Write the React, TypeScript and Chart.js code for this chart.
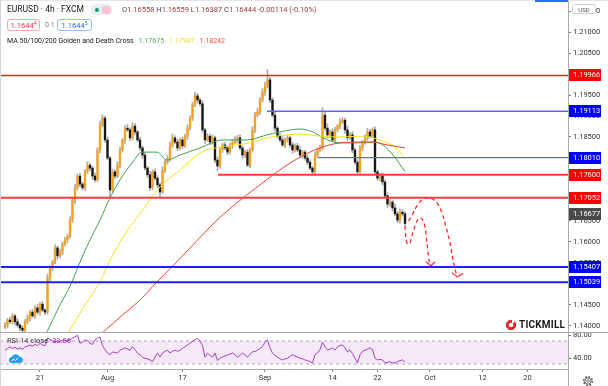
import React, { useEffect, useRef } from "react";
import { Chart, registerables } from "chart.js";

Chart.register(...registerables);

const FONT = "Roboto, 'Noto Sans', 'DejaVu Sans', sans-serif";

// x axis measured in trading days, 0 = 21 Jul
const X_MIN = -5.333;
const X_MAX = 70.4;
const xTickDays = [0, 9, 19, 30, 39, 45, 52, 59, 65];
const xTickLabels = ["21", "Aug", "17", "Sep", "14", "22", "Oct", "12", "20"];

const Y_MIN = 1.13857;
const Y_MAX = 1.21762;
const yTickValues = [1.14, 1.145, 1.15, 1.155, 1.16, 1.165, 1.17, 1.175, 1.18, 1.185, 1.19, 1.195, 1.2, 1.205, 1.21, 1.215];

const RSI_MIN = 21.3;
const RSI_MAX = 85.65;
const rsiTickValues = [40, 80];
const rsiBandTop = 70;
const rsiBandBottom = 30;

// candles (8h buckets): price = 1.1 + pips / 10000
const FIRST_BAR_DAY = -4.667;
const BARS_PER_DAY = 3;
const firstOpenPips = 398;
const closePips = [
  402, 414, 410, 424, 410, 402, 395, 390, 410, 419,
  433, 424, 443, 433, 452, 438, 433, 514, 538, 552,
  586, 567, 576, 595, 605, 614, 652, 700, 729, 757,
  738, 729, 767, 783, 776, 757, 748, 819, 879, 895,
  843, 800, 724, 767, 757, 783, 819, 843, 871, 867,
  848, 876, 862, 843, 824, 807, 776, 760, 729, 767,
  752, 736, 719, 771, 790, 800, 831, 848, 838, 824,
  843, 829, 852, 871, 895, 926, 948, 938, 929, 867,
  843, 852, 838, 848, 795, 781, 819, 831, 824, 814,
  829, 838, 843, 848, 824, 807, 814, 783, 819, 867,
  902, 910, 938, 957, 971, 986, 938, 902, 871, 852,
  843, 831, 843, 848, 831, 819, 829, 819, 807, 814,
  800, 790, 776, 767, 807, 819, 824, 902, 871, 855,
  862, 843, 867, 876, 886, 890, 867, 848, 855, 819,
  790, 767, 824, 838, 848, 862, 852, 867, 767, 752,
  757, 743, 710, 690, 695, 681, 667, 652, 671, 667,
  644,
];
const wickUpPips = [
  6, 4, 8, 5, 3, 7, 4, 6, 5, 8,
  4, 6, 5, 9, 4, 7, 3, 10, 6, 5,
  8, 4, 7, 5, 6, 4, 8, 6, 9, 5,
  7, 4, 6, 8, 5, 4, 7, 6, 9, 8,
  5, 7, 4, 6, 5, 8, 7, 4, 6, 9,
  5, 8, 6, 4, 7, 5, 6, 4, 8, 5,
  7, 6, 4, 8, 5, 6, 7, 9, 5, 6,
  4, 7, 5, 8, 6, 7, 9, 6, 5, 8,
  4, 6, 5, 7, 4, 8, 6, 5, 7, 4,
  6, 5, 8, 6, 7, 5, 4, 6, 5, 8,
  7, 9, 6, 8, 10, 25, 6, 5, 7, 4,
  6, 8, 5, 6, 4, 7, 5, 6, 8, 4,
  5, 7, 6, 4, 8, 5, 6, 18, 7, 10,
  5, 8, 6, 4, 7, 6, 5, 9, 6, 8,
  5, 6, 7, 4, 8, 9, 6, 5, 7, 4,
  6, 8, 5, 7, 6, 4, 9, 5, 8, 6,
  5,
];
const wickDownPips = [
  5, 7, 4, 6, 8, 5, 7, 4, 6, 5,
  7, 4, 6, 5, 8, 4, 6, 5, 7, 6,
  4, 8, 5, 6, 4, 7, 5, 6, 8, 5,
  6, 5, 7, 4, 6, 8, 5, 4, 7, 5,
  6, 4, 18, 5, 7, 4, 6, 5, 8, 4,
  6, 5, 7, 4, 6, 8, 5, 6, 7, 4,
  5, 7, 14, 4, 6, 5, 8, 6, 4, 7,
  5, 6, 4, 8, 5, 6, 4, 7, 5, 6,
  8, 4, 6, 5, 7, 12, 5, 6, 4, 7,
  5, 6, 4, 7, 5, 8, 6, 4, 6, 5,
  7, 4, 6, 5, 8, 4, 6, 5, 7, 5,
  6, 4, 7, 5, 6, 8, 5, 4, 6, 7,
  5, 6, 4, 8, 5, 6, 4, 6, 5, 7,
  6, 4, 7, 5, 6, 4, 8, 6, 4, 7,
  5, 6, 4, 7, 5, 6, 5, 4, 6, 5,
  6, 7, 5, 8, 6, 7, 5, 6, 7, 5,
  6,
];
const rsiValues = [
  54, 57, 60, 57, 59, 56, 58, 55, 60, 61,
  63, 61, 64, 62, 66, 63, 62, 75, 73, 70,
  68, 70, 69, 72, 71, 70, 72, 75, 77, 80,
  66, 68, 72, 70, 66, 64, 72, 75, 77, 62,
  55, 49, 46, 51, 50, 49, 54, 56, 58, 56,
  54, 60, 55, 49, 46, 42, 40, 39, 37, 34,
  42, 49, 42, 49, 52, 54, 49, 52, 54, 52,
  54, 57, 60, 63, 66, 69, 72, 75, 70, 62,
  42, 49, 45, 42, 49, 36, 40, 42, 44, 46,
  47, 49, 46, 42, 45, 49, 46, 42, 47, 51,
  52, 54, 57, 60, 68, 72, 58, 49, 45, 42,
  39, 37, 39, 40, 43, 46, 44, 42, 40, 39,
  37, 36, 34, 32, 46, 49, 55, 68, 60, 54,
  56, 58, 54, 60, 62, 63, 58, 51, 54, 48,
  40, 32, 46, 52, 54, 56, 58, 55, 40, 37,
  38, 37, 32, 33, 34, 32, 32, 34, 36, 37,
  33.86,
];

// moving averages: [day, price]
const ma50Points = [
  [0.933, 1.1386], [2.667, 1.145], [4.267, 1.1505], [5.067, 1.1541], [6.667, 1.1605],
  [8, 1.1652], [9.333, 1.1705], [10.667, 1.1748], [12.267, 1.1788], [13.6, 1.1814],
  [15.6, 1.1814], [16.933, 1.1795], [18.667, 1.1807], [21.333, 1.1824], [24.4, 1.1843],
  [27.6, 1.1843], [30.267, 1.1855], [32, 1.1862], [34.667, 1.1869], [36.4, 1.1862],
  [37.733, 1.1848], [40, 1.1836], [42.267, 1.1836], [44.267, 1.1838], [45.733, 1.1831],
  [47.067, 1.1807], [48.667, 1.17675],
];
const ma100Points = [
  [3.733, 1.1383], [6, 1.145], [8, 1.1505], [8.933, 1.1541], [10.667, 1.16],
  [12.267, 1.1643], [13.733, 1.1676], [14.8, 1.1705], [16.667, 1.1743], [18.667, 1.1771],
  [21.333, 1.1812], [24, 1.1826], [28, 1.1836], [30.267, 1.1848], [32.933, 1.1855],
  [34.667, 1.1857], [37.333, 1.1852], [40, 1.185], [42.667, 1.1852], [44.4, 1.1848],
  [46.267, 1.1836], [47.333, 1.1826], [48.667, 1.17987],
];
const ma200Points = [
  [8.267, 1.1383], [10.667, 1.1421], [13.333, 1.1462], [15.6, 1.1505], [17.6, 1.1541],
  [20.4, 1.1593], [23.6, 1.1652], [27.067, 1.1705], [29.333, 1.1736], [31.067, 1.176],
  [34.267, 1.1798], [37.333, 1.1824], [40, 1.1836], [42.667, 1.1838], [44.4, 1.1838],
  [46.267, 1.1831], [48, 1.1826], [48.667, 1.18242],
];

// horizontal levels
const levelValues = [1.19966, 1.19113, 1.1801, 1.176, 1.17052, 1.15407, 1.15039];
const levelStartDays = [X_MIN, 30.27, 37.07, 23.73, X_MIN, X_MIN, X_MIN];
const levelLineColors = ["#ff1414", "#6262ff", "#6262ff", "#ff3a3a", "#ff3a3a", "#2020ff", "#2020ff"];
const levelLineWidths = [1.4, 1.3, 1.3, 2, 2, 2, 2];
const levelTagColors = ["#ff0000", "#0000ff", "#0000ff", "#ff0000", "#ff0000", "#0000ff", "#0000ff"];
const currentPrice = 1.16677;

// projected path drawings: [day, price]
const projectionShort = [
  [48.667, 1.1638], [48.8, 1.1605], [49.2, 1.1595], [49.733, 1.1624], [50.267, 1.165],
  [50.667, 1.1657], [51.333, 1.1636], [51.6, 1.1598], [51.867, 1.1557], [52.133, 1.1543],
];
const arrowShort = [[51.467, 1.1553], [52.133, 1.1543], [52.667, 1.1553]];
const projectionLong = [
  [49.133, 1.165], [49.6, 1.1664], [50.267, 1.1686], [51.067, 1.1702], [52, 1.1705],
  [52.933, 1.1693], [53.6, 1.1669], [54.133, 1.1636], [54.667, 1.1598], [55.067, 1.1557],
  [55.6, 1.1517],
];
const arrowLong = [[54.933, 1.1527], [55.6, 1.1517], [56.4, 1.1525]];

const pip = (p: number) => 1.1 + p / 10000;
const toXY = (pts: number[][]) => pts.map(([x, y]) => ({ x, y }));

const UP_COLOR = "#f6a21e";
const DOWN_COLOR = "#161616";
const WICK_COLOR = "#ababab";

const priceTagPlugin = {
  id: "priceTags",
  afterDraw(chart: any) {
    const { ctx, chartArea } = chart;
    const ys = chart.scales.y;
    const tags = levelValues.map((v, i) => ({ v, bg: levelTagColors[i] }));
    tags.push({ v: currentPrice, bg: "#4a4a4a" });
    ctx.save();
    ctx.font = `7.5px ${FONT}`;
    ctx.textBaseline = "middle";
    ctx.textAlign = "left";
    tags.forEach((t) => {
      const y = Math.round(ys.getPixelForValue(t.v));
      ctx.fillStyle = t.bg;
      ctx.fillRect(chartArea.right + 1, y - 6, 32, 12);
      ctx.fillStyle = "#ffffff";
      ctx.fillText(t.v.toFixed(5), chartArea.right + 5, y + 0.5);
    });
    ctx.restore();
  },
};

export default function App() {
  const mainRef = useRef<HTMLCanvasElement>(null);
  const rsiRef = useRef<HTMLCanvasElement>(null);

  useEffect(() => {
    const candles = closePips.map((c, i) => {
      const o = i === 0 ? firstOpenPips : closePips[i - 1];
      return {
        x: FIRST_BAR_DAY + i / BARS_PER_DAY,
        o: pip(o),
        c: pip(c),
        h: pip(Math.max(o, c) + wickUpPips[i]),
        l: pip(Math.min(o, c) - wickDownPips[i]),
      };
    });

    const lineBase = { type: "line", pointRadius: 0, fill: false, tension: 0 };

    const levelDatasets = levelValues.map((v, i) => ({
      ...lineBase,
      data: [{ x: levelStartDays[i], y: v }, { x: X_MAX, y: v }],
      borderColor: levelLineColors[i],
      borderWidth: levelLineWidths[i],
      order: 2,
    }));

    const maDataset = (pts: number[][], color: string) => ({
      ...lineBase,
      data: toXY(pts),
      borderColor: color,
      borderWidth: 1,
      cubicInterpolationMode: "monotone",
      order: 3,
    });

    const main = new Chart(mainRef.current as HTMLCanvasElement, {
      type: "bar",
      data: {
        datasets: [
          {
            type: "bar",
            data: candles.map((k) => ({ x: k.x, y: [k.l, k.h] })),
            backgroundColor: WICK_COLOR,
            barThickness: 1,
            grouped: false,
            order: 6,
          },
          {
            type: "bar",
            data: candles.map((k) => ({ x: k.x, y: [k.o, k.c] })),
            backgroundColor: candles.map((k) => (k.c >= k.o ? UP_COLOR : DOWN_COLOR)),
            barThickness: 1.7,
            minBarLength: 1,
            grouped: false,
            order: 5,
          },
          maDataset(ma200Points, "#f44336"),
          maDataset(ma100Points, "#f3e21c"),
          maDataset(ma50Points, "#3fa34d"),
          ...levelDatasets,
          {
            ...lineBase,
            data: toXY(projectionShort),
            borderColor: "#ff2a2a",
            borderWidth: 1.3,
            borderDash: [4, 3],
            cubicInterpolationMode: "monotone",
            order: 1,
          },
          {
            ...lineBase,
            data: toXY(projectionLong),
            borderColor: "#ff2a2a",
            borderWidth: 1.3,
            borderDash: [4, 3],
            tension: 0.4,
            order: 1,
          },
          { ...lineBase, data: toXY(arrowShort), borderColor: "#ff2a2a", borderWidth: 1.2, order: 1 },
          { ...lineBase, data: toXY(arrowLong), borderColor: "#ff2a2a", borderWidth: 1.2, order: 1 },
        ] as any,
      },
      options: {
        responsive: false,
        animation: false,
        devicePixelRatio: 1,
        events: [],
        layout: { padding: 0 },
        plugins: { legend: { display: false }, tooltip: { enabled: false } },
        scales: {
          x: {
            type: "linear",
            min: X_MIN,
            max: X_MAX,
            display: false,
            offset: false,
            grid: { display: false, offset: false },
          },
          y: {
            position: "right",
            min: Y_MIN,
            max: Y_MAX,
            afterBuildTicks: (s: any) => {
              s.ticks = yTickValues.map((v) => ({ value: v }));
            },
            afterFit: (s: any) => {
              s.width = 40;
              s.paddingTop = 0;
              s.paddingBottom = 0;
            },
            ticks: {
              autoSkip: false,
              padding: 2,
              color: "#333333",
              font: { family: FONT, size: 7.5 },
              callback: (v: any) => Number(v).toFixed(5),
            },
            grid: { drawOnChartArea: false, drawTicks: true, tickLength: 3, color: "#777777" },
            border: { display: true, color: "#a8a8a8" },
          },
        },
      } as any,
      plugins: [priceTagPlugin],
    });

    const rsi = new Chart(rsiRef.current as HTMLCanvasElement, {
      type: "line",
      data: {
        datasets: [
          {
            data: [{ x: X_MIN, y: rsiBandTop }, { x: X_MAX, y: rsiBandTop }],
            borderColor: "#b7a6c4",
            borderWidth: 1,
            borderDash: [3, 3],
            pointRadius: 0,
            fill: false,
            order: 3,
          },
          {
            data: [{ x: X_MIN, y: rsiBandBottom }, { x: X_MAX, y: rsiBandBottom }],
            borderColor: "#b7a6c4",
            borderWidth: 1,
            borderDash: [3, 3],
            pointRadius: 0,
            fill: "-1",
            backgroundColor: "rgba(156,39,176,0.1)",
            order: 2,
          },
          {
            data: rsiValues.map((v, i) => ({ x: FIRST_BAR_DAY + i / BARS_PER_DAY, y: v })),
            borderColor: "#a53fc4",
            borderWidth: 1,
            pointRadius: 0,
            fill: false,
            tension: 0,
            order: 1,
          },
        ] as any,
      },
      options: {
        responsive: false,
        animation: false,
        devicePixelRatio: 1,
        events: [],
        layout: { padding: { top: 8, left: 0, right: 0, bottom: 0 } },
        plugins: { legend: { display: false }, tooltip: { enabled: false } },
        scales: {
          x: {
            type: "linear",
            min: X_MIN,
            max: X_MAX,
            offset: false,
            afterBuildTicks: (s: any) => {
              s.ticks = xTickDays.map((v) => ({ value: v }));
            },
            afterFit: (s: any) => {
              s.height = 17;
              s.paddingLeft = 0;
              s.paddingRight = 0;
            },
            ticks: {
              autoSkip: false,
              maxRotation: 0,
              padding: 2,
              color: "#333333",
              font: { family: FONT, size: 7.5 },
              callback: (_v: any, i: number) => xTickLabels[i],
            },
            grid: { drawOnChartArea: false, drawTicks: true, tickLength: 3, color: "#888888" },
            border: { display: true, color: "#a8a8a8" },
          },
          y: {
            position: "right",
            min: RSI_MIN,
            max: RSI_MAX,
            afterBuildTicks: (s: any) => {
              s.ticks = rsiTickValues.map((v) => ({ value: v }));
            },
            afterFit: (s: any) => {
              s.width = 40;
              s.paddingTop = 0;
              s.paddingBottom = 0;
            },
            ticks: {
              autoSkip: false,
              padding: 2,
              color: "#333333",
              font: { family: FONT, size: 7.5 },
              callback: (v: any) => Number(v).toFixed(2),
            },
            grid: { drawOnChartArea: false, drawTicks: true, tickLength: 3, color: "#777777" },
            border: { display: true, color: "#a8a8a8" },
          },
        },
      } as any,
    });

    return () => {
      main.destroy();
      rsi.destroy();
    };
  }, []);

  const abs = (s: React.CSSProperties): React.CSSProperties => ({ position: "absolute", ...s });

  return (
    <div
      style={{
        position: "fixed",
        left: 0,
        top: 0,
        width: 608,
        height: 386,
        background: "#ffffff",
        overflow: "hidden",
        fontFamily: FONT,
        whiteSpace: "nowrap",
      }}
    >
      <canvas ref={mainRef} width={608} height={332} style={abs({ left: 0, top: 0, width: 608, height: 332 })} />
      <canvas ref={rsiRef} width={608} height={62} style={abs({ left: 0, top: 324, width: 608, height: 62 })} />

      {/* frame lines */}
      <div style={abs({ left: 0, top: 0, width: 608, height: 1, background: "#e3e5ea" })} />
      <div style={abs({ left: 535, top: 0, width: 33, height: 2, background: "#2f6cf6" })} />
      <div style={abs({ left: 0, top: 0, width: 1, height: 386, background: "#d3d5da" })} />
      <div style={abs({ left: 0, top: 332, width: 608, height: 1, background: "#a8a8a8" })} />
      <div style={abs({ left: 568, top: 369, width: 1, height: 17, background: "#a8a8a8" })} />

      {/* header row 1 */}
      <div style={abs({ left: 7, top: 4, fontSize: 8.5, color: "#131722" })}>EURUSD · 4h · FXCM</div>
      <div style={abs({ left: 91, top: 4, width: 21, height: 11, borderRadius: 6, background: "#e6eef0" })}>
        <div style={abs({ left: 4, top: 3.5, width: 4, height: 4, borderRadius: 2, background: "#089981" })} />
        <div style={abs({ left: 11, top: 1.5, width: 9, height: 8, borderRadius: 3, background: "#f7c3d1" })} />
      </div>
      <div style={abs({ left: 122, top: 5, fontSize: 7.5, color: "#9b3b36" })}>
        <span style={{ color: "#4a4a4a" }}>O</span>1.16558 <span style={{ color: "#4a4a4a" }}>H</span>1.16559{" "}
        <span style={{ color: "#4a4a4a" }}>L</span>1.16387 <span style={{ color: "#4a4a4a" }}>C</span>1.16444 -0.00114 (-0.10%)
      </div>

      {/* header row 2 */}
      <div
        style={abs({
          left: 7,
          top: 19,
          width: 33,
          height: 12,
          boxSizing: "border-box",
          border: "1px solid #f4a7ab",
          borderRadius: 3,
          color: "#f23645",
          fontSize: 7.5,
          display: "flex",
          alignItems: "center",
          justifyContent: "center",
          background: "#fff",
        })}
      >
        1.1644<span style={{ fontSize: 5, position: "relative", top: -2 }}>4</span>
      </div>
      <div style={abs({ left: 45, top: 21, fontSize: 7, color: "#787b86" })}>0.1</div>
      <div
        style={abs({
          left: 57,
          top: 19,
          width: 35,
          height: 12,
          boxSizing: "border-box",
          border: "1px solid #8fbff5",
          borderRadius: 3,
          color: "#2962ff",
          fontSize: 7.5,
          display: "flex",
          alignItems: "center",
          justifyContent: "center",
          background: "#fff",
        })}
      >
        1.1644<span style={{ fontSize: 5, position: "relative", top: -2 }}>5</span>
      </div>

      {/* header row 3 */}
      <div style={abs({ left: 7, top: 37, fontSize: 7, color: "#131722" })}>
        MA 50/100/200 Golden and Death Cross
        <span style={{ color: "#4caf50", marginLeft: 5 }}>1.17675</span>
        <span style={{ color: "#efdc2a", marginLeft: 5 }}>1.17987</span>
        <span style={{ color: "#f44848", marginLeft: 5 }}>1.18242</span>
      </div>

      {/* USD badge */}
      <div
        style={abs({
          left: 572,
          top: 4,
          width: 24,
          height: 10,
          boxSizing: "border-box",
          border: "1px solid #c9ccd4",
          borderRadius: 3,
          background: "#fff",
          fontSize: 6,
          color: "#555",
          display: "flex",
          alignItems: "center",
          justifyContent: "center",
        })}
      >
        USD
      </div>

      {/* TICKMILL logo */}
      <div style={abs({ left: 506, top: 319, display: "flex", alignItems: "center" })}>
        <svg width="10" height="10" viewBox="0 0 10 10">
          <polygon points="3,0 7,0 10,3 10,7 7,10 3,10 0,7 0,3" fill="#e3262d" />
          <circle cx="5" cy="5" r="2.3" fill="#fff" />
          <rect x="6" y="0" width="2" height="3" fill="#fff" />
        </svg>
        <span style={{ marginLeft: 3, fontSize: 10, fontWeight: 700, color: "#1b1b1b", letterSpacing: 0.2 }}>TICKMILL</span>
      </div>

      {/* RSI legend */}
      <div style={abs({ left: 7, top: 336, fontSize: 7.5, color: "#333" })}>
        RSI 14 close<span style={{ color: "#9c27b0", marginLeft: 4 }}>33.86</span>
      </div>
      <div style={abs({ left: 7, top: 350, width: 16, height: 13, borderRadius: 3, background: "#fff" })}>
        <svg width="16" height="13" viewBox="0 0 16 13">
          <path d="M4 11 a3 3 0 0 1 0.6-5.9 a4.2 4.2 0 0 1 7.8-0.4 a3.1 3.1 0 0 1 0.6 6.3 z" fill="#2a9df4" />
          <path d="M4.5 9 l2-2 l2 1.5 l2.5-2.5" stroke="#fff" strokeWidth="1" fill="none" />
        </svg>
      </div>

      {/* gear */}
      <div style={abs({ left: 582, top: 372 })}>
        <svg width="12" height="12" viewBox="0 0 12 12">
          <circle cx="6" cy="6" r="4.3" fill="none" stroke="#555" strokeWidth="1.6" strokeDasharray="1.7 1.67" />
          <circle cx="6" cy="6" r="3.2" fill="#fff" stroke="#555" strokeWidth="0.9" />
          <circle cx="6" cy="6" r="1.3" fill="none" stroke="#555" strokeWidth="0.8" />
        </svg>
      </div>
    </div>
  );
}
